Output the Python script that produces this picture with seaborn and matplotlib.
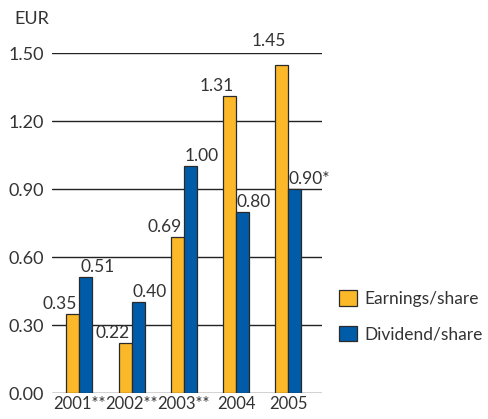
import pandas as pd
import matplotlib.pyplot as plt
import seaborn as sns
from matplotlib.patches import Patch

years = ['2001**', '2002**', '2003**', '2004', '2005']
earnings = [0.35, 0.22, 0.69, 1.31, 1.45]
dividend = [0.51, 0.40, 1.00, 0.80, 0.90]
dividend_labels = ['0.51', '0.40', '1.00', '0.80', '0.90*']
series = ['Earnings/share', 'Dividend/share']
colors = ['#FBB829', '#005CA9']
ticks = [0.0, 0.3, 0.6, 0.9, 1.2, 1.5]

df = pd.DataFrame({
    'Year': years * 2,
    'Value': earnings + dividend,
    'Series': [series[0]] * len(years) + [series[1]] * len(years),
})

sns.set_style("white")
plt.rcParams['font.family'] = ['Lato', 'DejaVu Sans']
txt = '#333333'

fig = plt.figure(figsize=(4.88, 4.19), dpi=100)
ax = fig.add_axes([0.107, 0.062, 0.553, 0.811])

sns.barplot(data=df, x='Year', y='Value', hue='Series', palette=colors,
            saturation=1, width=0.5, edgecolor='#2a2a2a', linewidth=0.9,
            ax=ax, legend=False, zorder=3)

for t in ticks:
    ax.axhline(t, color='#222222', linewidth=1.0, zorder=1)

for i, v in enumerate(earnings):
    # the 2005 label sits above the top gridline
    off = 11 if v > 1.4 else 1.5
    ax.annotate(f'{v:.2f}', (i, v), xytext=(-1.5, off), textcoords='offset points',
                ha='right', va='bottom', fontsize=12.5, color=txt, annotation_clip=False)
for i, v in enumerate(dividend):
    ax.annotate(dividend_labels[i], (i, v), xytext=(0.5, 1.5), textcoords='offset points',
                ha='left', va='bottom', fontsize=12.5, color=txt)

ax.set_ylim(0, 1.5)
ax.set_xlim(-0.52, 4.65)
ax.set_yticks(ticks)
ax.set_yticklabels([f'{t:.2f}' for t in ticks])
ax.set_xlabel('')
ax.set_ylabel('')
ax.tick_params(axis='y', length=0, pad=6, labelsize=13, labelcolor=txt)
ax.tick_params(axis='x', length=0, pad=2, labelsize=12, labelcolor=txt)
sns.despine(ax=ax, left=True, bottom=True)

fig.text(0.029, 0.955, 'EUR', fontsize=13, color=txt, va='center', ha='left')

handles = [Patch(facecolor=c, edgecolor='#2a2a2a', linewidth=0.9, label=s)
           for c, s in zip(colors, series)]
fig.legend(handles=handles, loc='upper left', bbox_to_anchor=(0.663, 0.345),
           frameon=False, fontsize=12.5, handlelength=1.0, handleheight=1.0,
           handletextpad=0.45, labelspacing=1.1, labelcolor=txt)

fig.savefig('out.png', dpi=100)
